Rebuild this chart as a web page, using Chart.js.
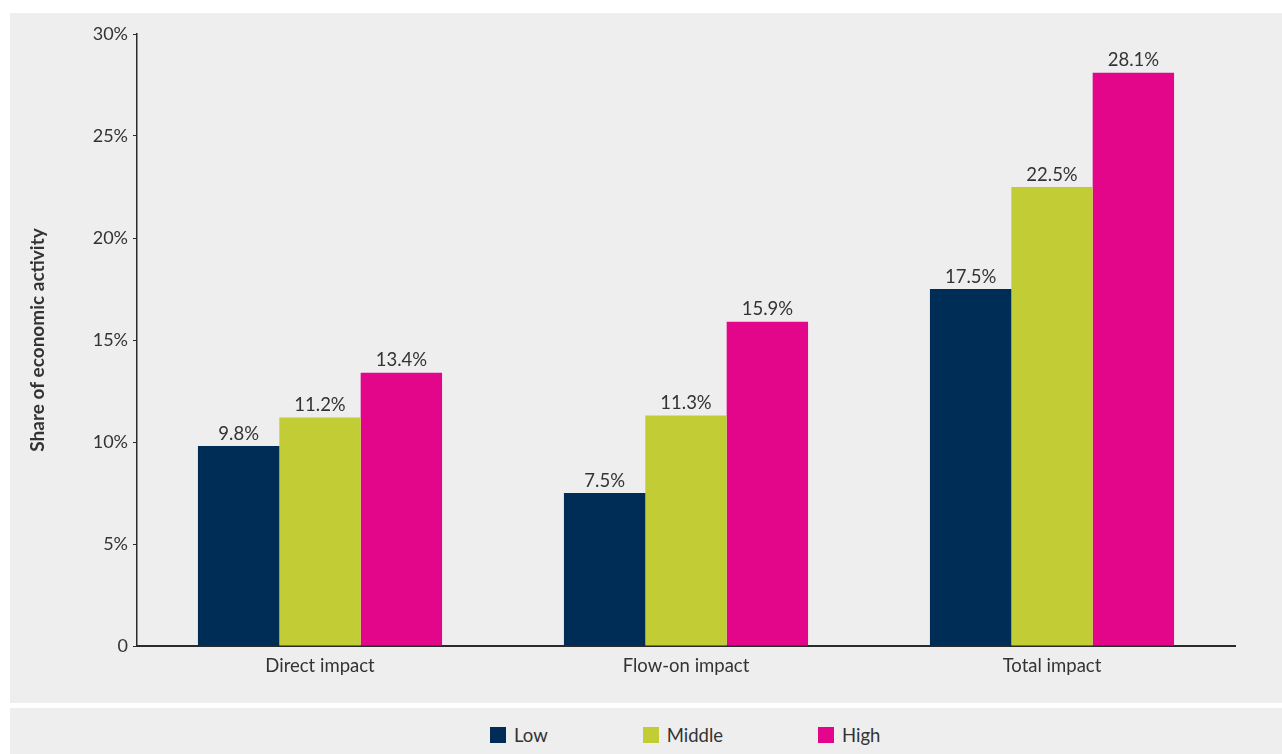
<!DOCTYPE html>
<html>
<head>
<meta charset="utf-8">
<title>Share of economic activity</title>
<script src="https://cdn.jsdelivr.net/npm/chart.js@4/dist/chart.umd.min.js"></script>
<style>
  body { margin: 0; background: #fff; font-family: Lato, "Open Sans", sans-serif; }
  #chart-panel { position: absolute; left: 10px; top: 13px; width: 1272px; height: 690px; background: #eeeeee; }
  #legend-panel { position: absolute; left: 10px; top: 708px; width: 1272px; height: 46px; background: #eeeeee; }
  #legend-panel ul { list-style: none; margin: 0; padding: 0; position: absolute; left: 480px; top: 16px; display: flex; }
  #legend-panel li { display: flex; align-items: center; font-size: 18.5px; color: #333; margin-right: 95px; }
  #legend-panel li span.box { display: inline-block; width: 16px; height: 16px; margin-right: 8px; }
</style>
</head>
<body>
<div id="chart-panel"><canvas id="impact"></canvas></div>
<div id="legend-panel"></div>
<script>
const categories = ['Direct impact', 'Flow-on impact', 'Total impact'];
const seriesNames = ['Low', 'Middle', 'High'];
const lowValues = [9.8, 7.5, 17.5];
const middleValues = [11.2, 11.3, 22.5];
const highValues = [13.4, 15.9, 28.1];
const seriesColors = ['#002d56', '#c2cc35', '#e3068b'];

const textColor = '#333333';
const axisColor = '#2a2a2a';

/** Draws the value above each bar */
const valueLabels = {
  id: 'valueLabels',
  afterDatasetsDraw(chart) {
    const ctx = chart.ctx;
    ctx.save();
    ctx.font = '18.5px Lato';
    ctx.fillStyle = textColor;
    ctx.textAlign = 'center';
    ctx.textBaseline = 'bottom';
    chart.data.datasets.forEach((ds, i) => {
      chart.getDatasetMeta(i).data.forEach((bar, j) => {
        ctx.fillText(ds.data[j].toFixed(1) + '%', bar.x, bar.y - 3);
      });
    });
    ctx.restore();
  }
};

/** Builds the legend as a list under the chart */
const htmlLegend = {
  id: 'htmlLegend',
  afterUpdate(chart) {
    const panel = document.getElementById('legend-panel');
    panel.innerHTML = '';
    const ul = document.createElement('ul');
    chart.data.datasets.forEach(ds => {
      const li = document.createElement('li');
      const box = document.createElement('span');
      box.className = 'box';
      box.style.background = ds.backgroundColor;
      li.appendChild(box);
      li.appendChild(document.createTextNode(ds.label));
      ul.appendChild(li);
    });
    panel.appendChild(ul);
  }
};

const datasets = [lowValues, middleValues, highValues].map((values, i) => ({
  label: seriesNames[i],
  data: values,
  backgroundColor: seriesColors[i],
  barPercentage: 1,
  categoryPercentage: 0.667
}));

const ctx = document.getElementById('impact').getContext('2d');
new Chart(ctx, {
  type: 'bar',
  data: { labels: categories, datasets },
  plugins: [valueLabels, htmlLegend],
  options: {
    responsive: true,
    maintainAspectRatio: false,
    animation: false,
    layout: { padding: { top: 21, right: 47, bottom: 0, left: 0 } },
    plugins: {
      legend: { display: false },
      tooltip: { enabled: false }
    },
    scales: {
      x: {
        grid: { display: false, drawTicks: false },
        border: { color: axisColor, width: 2 },
        ticks: { color: textColor, font: { family: 'Lato', size: 18.5 }, padding: 9 },
        afterFit(scale) { scale.height = 57; }
      },
      y: {
        min: 0,
        max: 30,
        ticks: {
          stepSize: 5,
          color: textColor,
          font: { family: 'Lato', size: 18 },
          padding: 5,
          callback: v => (v === 0 ? '0' : v + '%')
        },
        grid: { drawOnChartArea: false, color: axisColor, tickLength: 4 },
        border: { color: axisColor, width: 1.5 },
        title: {
          display: true,
          text: 'Share of economic activity',
          color: textColor,
          font: { family: 'Lato', size: 19, weight: 'bold' },
          padding: { top: 16, bottom: 0 }
        },
        afterFit(scale) { scale.width = 127; }
      }
    }
  }
});
</script>
</body>
</html>
